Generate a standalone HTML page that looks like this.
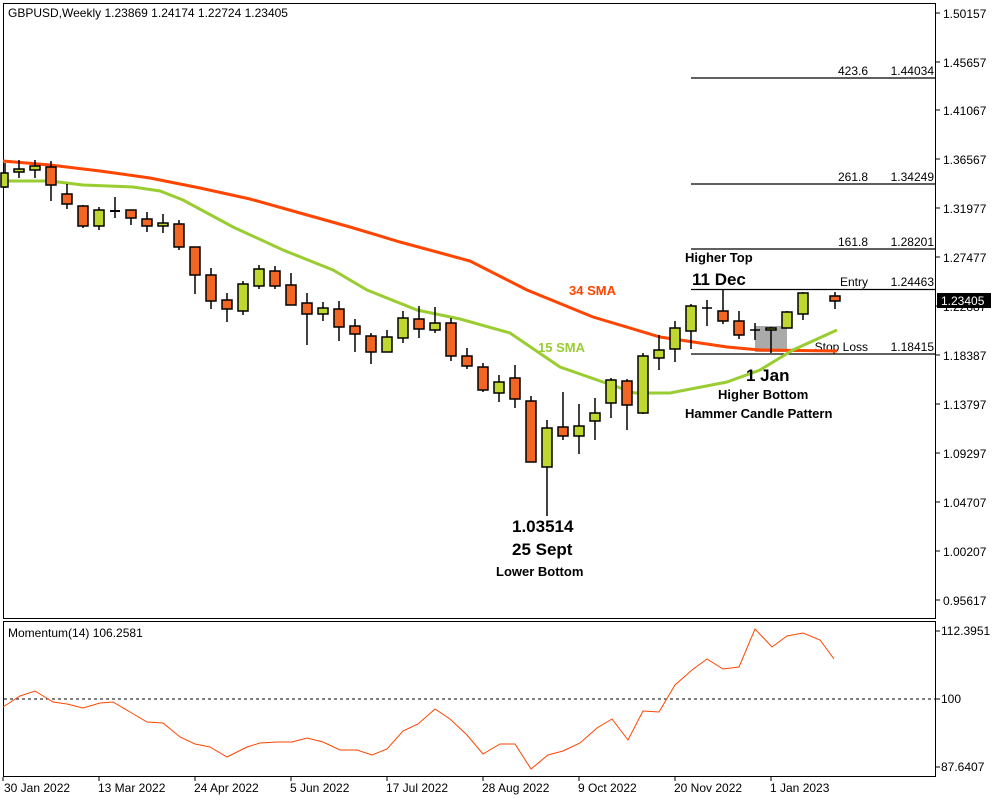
<!DOCTYPE html>
<html><head><style>
body{margin:0;background:#fff;}
svg{display:block;font-family:"Liberation Sans",sans-serif;}
.t{font-size:12px;fill:#000;}
.b{font-weight:bold;fill:#000;}
</style></head><body>
<svg width="1000" height="800" viewBox="0 0 1000 800" xmlns="http://www.w3.org/2000/svg">
<rect width="1000" height="800" fill="#fff"/>
<!-- panels -->
<rect x="3.5" y="3.5" width="932" height="615" fill="none" stroke="#000"/>
<rect x="3.5" y="621.5" width="932" height="155" fill="none" stroke="#000"/>
<text x="8" y="17" class="t">GBPUSD,Weekly  1.23869 1.24174 1.22724 1.23405</text>
<!-- price axis -->
<g class="t" stroke="#000">
<line x1="936" y1="13" x2="940" y2="13"/><line x1="936" y1="62" x2="940" y2="62"/><line x1="936" y1="110" x2="940" y2="110"/><line x1="936" y1="159" x2="940" y2="159"/><line x1="936" y1="208" x2="940" y2="208"/><line x1="936" y1="257" x2="940" y2="257"/><line x1="936" y1="306" x2="940" y2="306"/><line x1="936" y1="355" x2="940" y2="355"/><line x1="936" y1="404" x2="940" y2="404"/><line x1="936" y1="453" x2="940" y2="453"/><line x1="936" y1="502" x2="940" y2="502"/><line x1="936" y1="551" x2="940" y2="551"/><line x1="936" y1="600" x2="940" y2="600"/>
</g>
<g class="t">
<text x="943" y="18">1.50157</text><text x="943" y="67">1.45657</text><text x="943" y="115">1.41067</text><text x="943" y="164">1.36567</text><text x="943" y="213">1.31977</text><text x="943" y="262">1.27477</text><text x="943" y="311">1.22887</text><text x="943" y="360">1.18387</text><text x="943" y="409">1.13797</text><text x="943" y="458">1.09297</text><text x="943" y="507">1.04707</text><text x="943" y="556">1.00207</text><text x="943" y="605">0.95617</text>
</g>
<rect x="937" y="293" width="54" height="15" fill="#000"/>
<text x="941" y="305" class="t" style="fill:#fff">1.23405</text>
<!-- fib lines -->
<g stroke="#000" stroke-width="1.3">
<line x1="691" y1="78" x2="936" y2="78"/><line x1="691" y1="184" x2="936" y2="184"/><line x1="691" y1="249" x2="936" y2="249"/><line x1="691" y1="289.5" x2="936" y2="289.5"/><line x1="691" y1="354" x2="936" y2="354"/>
</g>
<g class="t" text-anchor="end">
<text x="868" y="75">423.6</text><text x="934" y="75">1.44034</text>
<text x="868" y="181">261.8</text><text x="934" y="181">1.34249</text>
<text x="868" y="246">161.8</text><text x="934" y="246">1.28201</text>
<text x="868" y="286">Entry</text><text x="934" y="286">1.24463</text>
<text x="868" y="351">Stop Loss</text><text x="934" y="351">1.18415</text>
</g>
<rect x="755" y="326" width="32" height="26" fill="#aaa"/>
<!-- SMAs -->
<polyline fill="none" stroke="#ff4500" stroke-width="3" points="3,161 50,165 100,171 150,178 200,188 250,199 300,213 350,227 400,242 470,261 527,290 593,317 660,337 727,347 760,350 837,351"/>
<polyline fill="none" stroke="#9acd32" stroke-width="3" points="3,181 50,181 83,185 133,187 160,191 183,200 233,227 283,250 333,270 367,290 417,310 460,319 510,333 560,367 603,382 635,393 670,393 727,382 760,370 793,350 837,330"/>
<!-- candles -->
<g stroke="#000" stroke-width="1.5" id="c"></g>
<g stroke="#000" stroke-width="1.5">
<line x1="5" y1="163" x2="5" y2="188"/><rect x="1" y="173" width="7" height="14" fill="#c0d72f"/>
<line x1="19" y1="160" x2="19" y2="178"/><rect x="14" y="169" width="10" height="3" fill="#c0d72f"/>
<line x1="35" y1="160" x2="35" y2="178"/><rect x="30" y="166" width="10" height="4" fill="#c0d72f"/>
<line x1="51" y1="161" x2="51" y2="201"/><rect x="46" y="167" width="10" height="18" fill="#f26522"/>
<line x1="67" y1="184" x2="67" y2="209"/><rect x="62" y="194" width="10" height="10" fill="#f26522"/>
<line x1="83" y1="205" x2="83" y2="228"/><rect x="78" y="206" width="10" height="20" fill="#f26522"/>
<line x1="99" y1="207" x2="99" y2="230"/><rect x="94" y="210" width="10" height="16" fill="#c0d72f"/>
<line x1="115" y1="197" x2="115" y2="218"/><line x1="110" y1="211" x2="120" y2="211" stroke-width="2"/>
<line x1="131" y1="210" x2="131" y2="225"/><rect x="126" y="210" width="10" height="8" fill="#f26522"/>
<line x1="147" y1="212" x2="147" y2="232"/><rect x="142" y="219" width="10" height="7" fill="#f26522"/>
<line x1="163" y1="214" x2="163" y2="233"/><rect x="158" y="223" width="10" height="3" fill="#c0d72f"/>
<line x1="179" y1="220" x2="179" y2="250"/><rect x="174" y="224" width="10" height="23" fill="#f26522"/>
<line x1="195" y1="247" x2="195" y2="294"/><rect x="190" y="247" width="10" height="28" fill="#f26522"/>
<line x1="211" y1="268" x2="211" y2="309"/><rect x="206" y="275" width="10" height="26" fill="#f26522"/>
<line x1="227" y1="293" x2="227" y2="322"/><rect x="222" y="300" width="10" height="9" fill="#f26522"/>
<line x1="243" y1="281" x2="243" y2="315"/><rect x="238" y="284" width="10" height="27" fill="#c0d72f"/>
<line x1="259" y1="265" x2="259" y2="289"/><rect x="254" y="269" width="10" height="17" fill="#c0d72f"/>
<line x1="275" y1="266" x2="275" y2="289"/><rect x="270" y="271" width="10" height="15" fill="#f26522"/>
<line x1="291" y1="273" x2="291" y2="305"/><rect x="286" y="285" width="10" height="20" fill="#f26522"/>
<line x1="307" y1="293" x2="307" y2="345"/><rect x="302" y="303" width="10" height="11" fill="#f26522"/>
<line x1="323" y1="302" x2="323" y2="321"/><rect x="318" y="308" width="10" height="6" fill="#c0d72f"/>
<line x1="339" y1="301" x2="339" y2="341"/><rect x="334" y="309" width="10" height="18" fill="#f26522"/>
<line x1="355" y1="319" x2="355" y2="352"/><rect x="350" y="326" width="10" height="8" fill="#f26522"/>
<line x1="371" y1="333" x2="371" y2="364"/><rect x="366" y="336" width="10" height="16" fill="#f26522"/>
<line x1="387" y1="330" x2="387" y2="352"/><rect x="382" y="337" width="10" height="15" fill="#c0d72f"/>
<line x1="403" y1="311" x2="403" y2="343"/><rect x="398" y="318" width="10" height="20" fill="#c0d72f"/>
<line x1="419" y1="306" x2="419" y2="338"/><rect x="414" y="319" width="10" height="10" fill="#f26522"/>
<line x1="435" y1="307" x2="435" y2="333"/><rect x="430" y="323" width="10" height="7" fill="#c0d72f"/>
<line x1="451" y1="318" x2="451" y2="361"/><rect x="446" y="323" width="10" height="33" fill="#f26522"/>
<line x1="467" y1="348" x2="467" y2="369"/><rect x="462" y="356" width="10" height="10" fill="#f26522"/>
<line x1="483" y1="363" x2="483" y2="392"/><rect x="478" y="367" width="10" height="23" fill="#f26522"/>
<line x1="499" y1="375" x2="499" y2="402"/><rect x="494" y="382" width="10" height="11" fill="#c0d72f"/>
<line x1="515" y1="365" x2="515" y2="408"/><rect x="510" y="378" width="10" height="21" fill="#f26522"/>
<line x1="531" y1="396" x2="531" y2="462"/><rect x="526" y="401" width="10" height="61" fill="#f26522"/>
<line x1="547" y1="420" x2="547" y2="516"/><rect x="542" y="428" width="10" height="39" fill="#c0d72f"/>
<line x1="563" y1="392" x2="563" y2="440"/><rect x="558" y="427" width="10" height="9" fill="#f26522"/>
<line x1="579" y1="404" x2="579" y2="454"/><rect x="574" y="426" width="10" height="10" fill="#c0d72f"/>
<line x1="595" y1="398" x2="595" y2="440"/><rect x="590" y="413" width="10" height="8" fill="#c0d72f"/>
<line x1="611" y1="378" x2="611" y2="418"/><rect x="606" y="380" width="10" height="23" fill="#c0d72f"/>
<line x1="627" y1="379" x2="627" y2="430"/><rect x="622" y="381" width="10" height="24" fill="#f26522"/>
<line x1="643" y1="353" x2="643" y2="414"/><rect x="638" y="356" width="10" height="57" fill="#c0d72f"/>
<line x1="659" y1="335" x2="659" y2="370"/><rect x="654" y="350" width="10" height="8" fill="#c0d72f"/>
<line x1="675" y1="321" x2="675" y2="362"/><rect x="670" y="328" width="10" height="21" fill="#c0d72f"/>
<line x1="691" y1="304" x2="691" y2="349"/><rect x="686" y="306" width="10" height="25" fill="#c0d72f"/>
<line x1="707" y1="300" x2="707" y2="326"/><line x1="702" y1="308" x2="712" y2="308"/>
<line x1="723" y1="290" x2="723" y2="324"/><rect x="718" y="311" width="10" height="10" fill="#f26522"/>
<line x1="739" y1="311" x2="739" y2="339"/><rect x="734" y="321" width="10" height="14" fill="#f26522"/>
<line x1="755" y1="323" x2="755" y2="340"/><line x1="750" y1="330" x2="760" y2="330"/>
<line x1="771" y1="327" x2="771" y2="353"/><rect x="766" y="328" width="10" height="2" fill="#c0d72f"/>
<line x1="787" y1="311" x2="787" y2="328"/><rect x="782" y="312" width="10" height="16" fill="#c0d72f"/>
<line x1="803" y1="292" x2="803" y2="320"/><rect x="798" y="293" width="10" height="21" fill="#c0d72f"/>
<line x1="835" y1="292" x2="835" y2="309"/><rect x="830" y="296" width="10" height="5" fill="#f26522"/>
</g>
<!-- annotations -->
<text x="685" y="262" class="b" font-size="13">Higher Top</text>
<text x="692" y="285" class="b" font-size="17">11 Dec</text>
<text x="569" y="295" class="b" font-size="13" style="fill:#ff4500">34 SMA</text>
<text x="538" y="352" class="b" font-size="13" style="fill:#9acd32">15 SMA</text>
<text x="746" y="381" class="b" font-size="17">1 Jan</text>
<text x="718" y="399" class="b" font-size="13">Higher Bottom</text>
<text x="685" y="418" class="b" font-size="13">Hammer Candle Pattern</text>
<text x="512" y="532" class="b" font-size="17">1.03514</text>
<text x="512" y="555" class="b" font-size="17">25 Sept</text>
<text x="496" y="576" class="b" font-size="13">Lower Bottom</text>
<!-- momentum -->
<text x="8" y="637" class="t">Momentum(14) 106.2581</text>
<line x1="4" y1="699" x2="935" y2="699" stroke="#000" stroke-dasharray="3,3"/>
<g stroke="#000"><line x1="936" y1="631" x2="940" y2="631"/><line x1="936" y1="699" x2="940" y2="699"/><line x1="936" y1="767" x2="940" y2="767"/></g>
<g class="t"><text x="941" y="635">112.3951</text><text x="941" y="703">100</text><text x="941" y="771">87.6407</text></g>
<polyline fill="none" stroke="#ff4500" stroke-width="1" points="3,707 20,696 35,691 53,702 67,704 83,708 100,703 113,702 130,712 147,722 163,723 180,737 195,744 210,747 227,757 247,747 260,743 277,742 292,742 307,738 323,742 340,750 357,750 372,755 387,749 403,731 418,724 435,709 450,719 467,735 483,754 500,744 515,744 531,769 548,755 563,751 580,743 597,728 612,719 628,740 643,711 659,712 675,685 692,670 707,659 723,669 739,667 755,629 772,647 787,636 803,633 820,640 834,659"/>
<!-- date axis -->
<g stroke="#000"><line x1="3" y1="777" x2="3" y2="781"/><line x1="99" y1="777" x2="99" y2="781"/><line x1="195" y1="777" x2="195" y2="781"/><line x1="291" y1="777" x2="291" y2="781"/><line x1="387" y1="777" x2="387" y2="781"/><line x1="483" y1="777" x2="483" y2="781"/><line x1="579" y1="777" x2="579" y2="781"/><line x1="675" y1="777" x2="675" y2="781"/><line x1="771" y1="777" x2="771" y2="781"/></g>
<g class="t">
<text x="4" y="792">30 Jan 2022</text><text x="98" y="792">13 Mar 2022</text><text x="194" y="792">24 Apr 2022</text><text x="290" y="792">5 Jun 2022</text><text x="386" y="792">17 Jul 2022</text><text x="482" y="792">28 Aug 2022</text><text x="578" y="792">9 Oct 2022</text><text x="674" y="792">20 Nov 2022</text><text x="770" y="792">1 Jan 2023</text>
</g>
</svg>
</body></html>
